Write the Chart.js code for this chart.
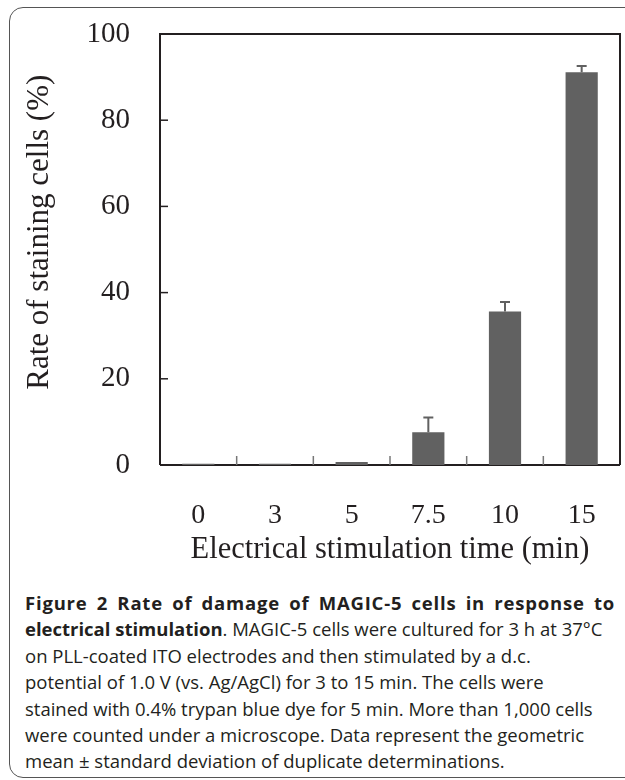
<!DOCTYPE html>
<html>
<head>
<meta charset="utf-8">
<script src="https://cdn.jsdelivr.net/npm/chart.js@4.4.1/dist/chart.umd.min.js"></script>
<style>
  html, body { margin: 0; padding: 0; background: #fff; width: 625px; height: 780px; overflow: hidden; }
  .card {
    position: absolute; left: 9px; top: 7px; width: 700px; height: 771px;
    border: 1.5px solid #555; border-radius: 14px; box-sizing: border-box;
  }
  #wrap { position: absolute; left: 0; top: 0; width: 625px; height: 590px; }
  .caption {
    position: absolute; left: 25px; top: 590px; width: 590px;
    font-family: "Open Sans", sans-serif; font-size: 18.5px; line-height: 26.4px;
    color: #231f20; white-space: nowrap;
  }
  .caption div { height: 26.4px; }
  .caption .just { text-align: justify; text-align-last: justify; letter-spacing: 0.8px; }
  .caption b { font-weight: 700; }
</style>
</head>
<body>
<div class="card"></div>
<div id="wrap"><canvas id="myChart"></canvas></div>
<div class="caption">
  <div class="just"><b>Figure 2 Rate of damage of MAGIC-5 cells in response to</b></div>
  <div><b>electrical stimulation</b>. MAGIC-5 cells were cultured for 3 h at 37°C</div>
  <div>on PLL-coated ITO electrodes and then stimulated by a d.c.</div>
  <div>potential of 1.0 V (vs. Ag/AgCl) for 3 to 15 min. The cells were</div>
  <div>stained with 0.4% trypan blue dye for 5 min. More than 1,000 cells</div>
  <div>were counted under a microscope. Data represent the geometric</div>
  <div>mean ± standard deviation of duplicate determinations.</div>
</div>
<script>
// data
const times = ['0', '3', '5', '7.5', '10', '15'];
const staining = [0.3, 0.3, 0.7, 7.6, 35.6, 91.1];
const sd = [0, 0, 0, 3.4, 2.2, 1.5];
const yTicks = [0, 20, 40, 60, 80, 100];
const yTitle = 'Rate of staining cells (%)';

const ink = '#231f20';
const barGray = '#616161';
const serif = 'Liberation Serif';

// frame, inward ticks, error bars and the y title
const decorPlugin = {
    id: 'decor',
    beforeDatasetsDraw(chart) {
        // bottom axis line goes under the bars
        const ctx = chart.ctx;
        const area = chart.chartArea;
        ctx.save();
        ctx.strokeStyle = ink;
        ctx.lineWidth = 2;
        ctx.beginPath();
        ctx.moveTo(area.left, area.bottom);
        ctx.lineTo(area.right, area.bottom);
        ctx.stroke();
        ctx.restore();
    },
    afterDatasetsDraw(chart) {
        const ctx = chart.ctx;
        const area = chart.chartArea;
        const x = chart.scales.x;
        const y = chart.scales.y;
        ctx.save();

        // error bars (upper half only)
        const meta = chart.getDatasetMeta(0);
        ctx.strokeStyle = barGray;
        ctx.lineWidth = 2;
        meta.data.forEach((bar, i) => {
            if (!sd[i]) return;
            const top = y.getPixelForValue(staining[i]);
            const end = y.getPixelForValue(staining[i] + sd[i]);
            ctx.beginPath();
            ctx.moveTo(bar.x, top);
            ctx.lineTo(bar.x, end);
            ctx.moveTo(bar.x - 5, end);
            ctx.lineTo(bar.x + 5, end);
            ctx.stroke();
        });

        // y ticks pointing inward
        ctx.strokeStyle = ink;
        ctx.lineWidth = 1.5;
        yTicks.slice(1, -1).forEach(v => {
            const py = y.getPixelForValue(v);
            ctx.beginPath();
            ctx.moveTo(area.left, py);
            ctx.lineTo(area.left + 8, py);
            ctx.stroke();
        });

        // x ticks between categories, pointing inward
        ctx.strokeStyle = '#777';
        for (let i = 1; i < times.length; i++) {
            const px = (x.getPixelForValue(i - 1) + x.getPixelForValue(i)) / 2;
            ctx.beginPath();
            ctx.moveTo(px, area.bottom);
            ctx.lineTo(px, area.bottom - 9);
            ctx.stroke();
        }

        // box round the plot
        ctx.strokeStyle = ink;
        ctx.lineWidth = 2;
        ctx.beginPath();
        ctx.moveTo(area.left, area.bottom);
        ctx.lineTo(area.left, area.top);
        ctx.lineTo(area.right, area.top);
        ctx.lineTo(area.right, area.bottom);
        ctx.stroke();

        // y title sits a bit above the middle in the original
        ctx.translate(40, area.top + (area.bottom - area.top) * 0.46);
        ctx.rotate(-Math.PI / 2);
        ctx.fillStyle = ink;
        ctx.font = '31px "' + serif + '"';
        ctx.textAlign = 'center';
        ctx.textBaseline = 'middle';
        ctx.fillText(yTitle, 0, 0);
        ctx.restore();
    }
};

const barConfig = {
    type: 'bar',
    data: {
        labels: times,
        datasets: [{
            data: staining,
            backgroundColor: barGray,
            barPercentage: 0.42,
            categoryPercentage: 1
        }]
    },
    options: {
        animation: false,
        responsive: true,
        maintainAspectRatio: false,
        layout: { padding: { top: 34, right: 5, left: 0, bottom: 0 } },
        plugins: { legend: { display: false }, tooltip: { enabled: false } },
        scales: {
            x: {
                grid: { display: false, drawTicks: false },
                border: { display: false },
                ticks: { color: ink, padding: 34, font: { family: serif, size: 28 } },
                title: {
                    display: true,
                    text: 'Electrical stimulation time (min)',
                    color: ink,
                    font: { family: serif, size: 30.5 },
                    padding: { top: 0, bottom: 22 }
                },
                afterFit(scale) {
                    scale.height = 125;
                    scale.paddingLeft = 0;
                    scale.paddingRight = 0;
                }
            },
            y: {
                min: 0,
                max: 100,
                grid: { display: false, drawTicks: false },
                border: { display: false },
                afterBuildTicks(scale) { scale.ticks = yTicks.map(v => ({ value: v })); },
                ticks: { color: ink, padding: 30, font: { family: serif, size: 29 } },
                afterFit(scale) {
                    scale.width = 160;
                    scale.paddingTop = 0;
                    scale.paddingBottom = 0;
                }
            }
        }
    },
    plugins: [decorPlugin]
};

function initCharts() {
    if (typeof Chart === 'undefined') {
        console.error('Chart.js is not loaded.');
        return;
    }
    const ctx = document.getElementById('myChart').getContext('2d');
    new Chart(ctx, barConfig);
}

if (document.readyState === 'loading') {
    document.addEventListener('DOMContentLoaded', initCharts);
} else {
    initCharts();
}
</script>
</body>
</html>
